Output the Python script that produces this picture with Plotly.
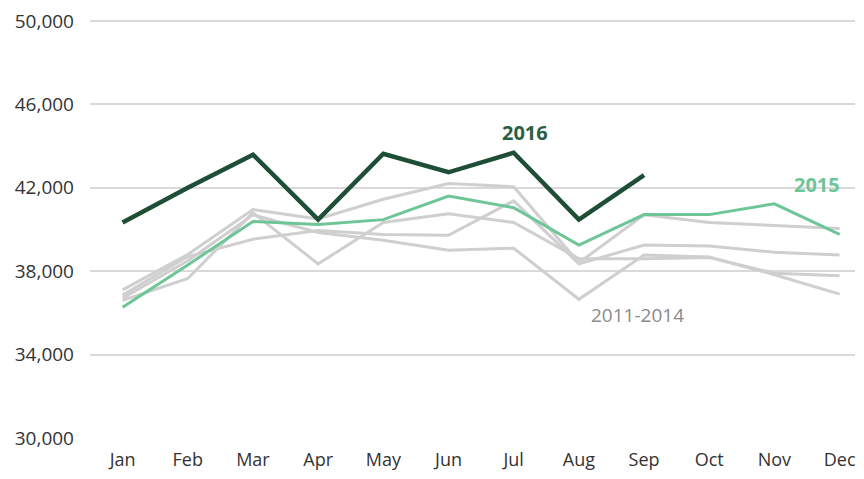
import plotly.graph_objects as go

months = ["Jan", "Feb", "Mar", "Apr", "May", "Jun", "Jul", "Aug", "Sep", "Oct", "Nov", "Dec"]

y2011 = [36600, 37650, 40800, 38350, 40330, 40750, 40330, 38600, 38600, 38650, 37900, 37780]
y2012 = [37100, 38800, 40950, 40500, 41450, 42200, 42050, 38400, 40700, 40330, 40190, 40050]
y2013 = [36850, 38700, 39530, 39950, 39760, 39720, 41370, 38350, 39250, 39200, 38910, 38770]
y2014 = [36700, 38500, 40700, 39850, 39480, 39000, 39100, 36650, 38770, 38680, 37830, 36900]
y2015 = [36270, 38300, 40380, 40240, 40470, 41600, 41040, 39250, 40710, 40710, 41230, 39760]
y2016 = [40330, 42000, 43585, 40470, 43630, 42740, 43680, 40470, 42600]

gray_series = [y2011, y2012, y2013, y2014]

fig = go.Figure()
for ys in gray_series:
    fig.add_trace(go.Scatter(x=months, y=ys, mode="lines",
                             line=dict(color="#d0cfcf", width=3), hoverinfo="skip",
                             showlegend=False))
fig.add_trace(go.Scatter(x=months, y=y2015, mode="lines",
                         line=dict(color="#6dc598", width=3), showlegend=False))
fig.add_trace(go.Scatter(x=months[:len(y2016)], y=y2016, mode="lines",
                         line=dict(color="#1f4e37", width=4.5), showlegend=False))

fig.add_annotation(x=6.18, y=44670, text="<b>2016</b>", showarrow=False,
                   font=dict(size=20, color="#2a5e45"))
fig.add_annotation(x=10.66, y=42170, text="<b>2015</b>", showarrow=False,
                   font=dict(size=20, color="#6dc598"))
fig.add_annotation(x=7.9, y=35900, text="2011-2014", showarrow=False,
                   font=dict(size=19, color="#8a8a8a"))

fig.update_layout(
    width=848, height=463,
    margin=dict(l=82, r=0, t=4, b=23),
    paper_bgcolor="white", plot_bgcolor="white",
    font=dict(family="Open Sans", size=19, color="#333333"),
    xaxis=dict(type="category", range=[-0.5, 11.236], showgrid=False,
               showline=False, zeroline=False, ticks="", ticklabelstandoff=9,
               tickfont=dict(size=18, color="#333333")),
    yaxis=dict(range=[30000, 50377], tickvals=[30000, 34000, 38000, 42000, 46000, 50000],
               tickformat=",", showgrid=True, gridcolor="#d9d9d9", gridwidth=1.5,
               zeroline=False, showline=False, ticks="", ticklabelstandoff=15,
               ticklabeloverflow="allow",
               tickfont=dict(size=19, color="#333333")),
)

fig.write_html("out.html")
